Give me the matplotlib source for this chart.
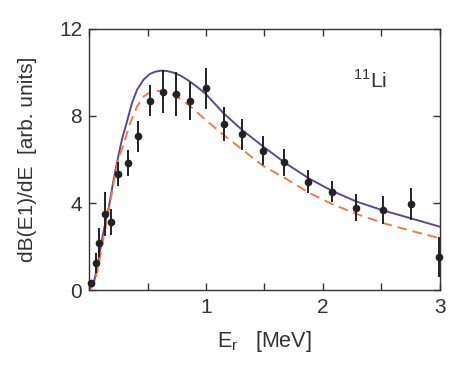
import matplotlib
matplotlib.use('Agg')
import matplotlib.pyplot as plt
from matplotlib.ticker import MultipleLocator

plt.rcParams['font.family'] = ['Liberation Sans', 'DejaVu Sans']

# measured points
e_data = [0.02, 0.06, 0.085, 0.14, 0.19, 0.25, 0.33, 0.42, 0.52, 0.63, 0.74, 0.865,
          1.0, 1.15, 1.31, 1.49, 1.67, 1.87, 2.08, 2.28, 2.51, 2.75, 2.99]
b_data = [0.33, 1.23, 2.18, 3.49, 3.12, 5.33, 5.84, 7.07, 8.7, 9.12, 9.0, 8.68,
          9.27, 7.64, 7.16, 6.41, 5.87, 4.98, 4.52, 3.79, 3.67, 3.95, 1.52]
b_err = [0.15, 0.46, 0.65, 1.0, 0.6, 0.55, 0.6, 0.72, 0.72, 0.97, 1.0, 0.88,
         0.94, 0.79, 0.72, 0.65, 0.61, 0.52, 0.49, 0.63, 0.63, 0.72, 0.92]

# solid calculation
e_solid = [0.0, 0.04, 0.08, 0.12, 0.17, 0.21, 0.25, 0.28, 0.32, 0.366, 0.41, 0.465, 0.52,
           0.57, 0.62, 0.67, 0.72, 0.78, 0.84, 0.92, 1.0, 1.15, 1.31, 1.49, 1.68, 1.88,
           2.08, 2.29, 2.52, 2.75, 3.0]
b_solid = [0.0, 0.31, 1.38, 2.6, 3.85, 5.08, 6.15, 6.9, 7.66, 8.58, 9.2, 9.66, 9.93,
           10.04, 10.08, 10.06, 9.99, 9.86, 9.66, 9.35, 9.0, 8.12, 7.35, 6.59, 5.83, 5.13,
           4.55, 4.06, 3.65, 3.3, 2.91]

# dashed calculation
e_dashed = [0.0, 0.04, 0.08, 0.12, 0.17, 0.21, 0.25, 0.30, 0.35, 0.41, 0.465, 0.51, 0.55,
            0.59, 0.636, 0.69, 0.75, 0.865, 1.0, 1.15, 1.31, 1.49, 1.68, 1.88, 2.08, 2.29,
            2.52, 2.75, 3.0]
b_dashed = [0.0, 0.2, 1.08, 2.3, 3.7, 4.92, 6.0, 6.77, 7.66, 8.43, 8.89, 9.05, 9.12,
            9.15, 9.12, 9.03, 8.89, 8.45, 7.8, 7.13, 6.45, 5.7, 5.13, 4.47, 3.95, 3.49,
            3.07, 2.73, 2.38]

x_ticks = [1, 2, 3]
y_ticks = [0, 4, 8, 12]

fig = plt.figure(figsize=(4.64, 3.70), dpi=100)
ax = fig.add_axes([0.192, 0.216, 0.756, 0.706])

ax.plot(e_solid, b_solid, color='#5b4b8a', lw=1.4, solid_joinstyle='round')
ax.plot(e_dashed, b_dashed, color='#f47a4c', lw=1.4, dashes=(5, 3))
ax.errorbar(e_data, b_data, yerr=b_err, fmt='o', color='#222222', ms=4.5,
            elinewidth=1.4, capsize=0, clip_on=False, zorder=5)

ax.set_xlim(0, 3)
ax.set_ylim(0, 12)
ax.set_xticks(x_ticks)
ax.xaxis.set_minor_locator(MultipleLocator(0.5))
ax.set_yticks(y_ticks)
ax.tick_params(which='both', direction='in', top=True, right=True, length=5,
               width=1.0, colors='#333333', labelsize=15, pad=6)
ax.tick_params(axis='y', pad=5)
for s in ax.spines.values():
    s.set_color('#333333')
    s.set_linewidth(1.0)

ax.set_xlabel(r'E$_\mathregular{r}$   [MeV]', fontsize=15.5, color='#333333', labelpad=8)
ax.set_ylabel('dB(E1)/dE  [arb. units]', fontsize=15, color='#333333', labelpad=16)
ax.text(2.26, 9.3, r'$^{\mathregular{11}}$Li', fontsize=15, color='#333333')

fig.savefig('out.png', dpi=100)
